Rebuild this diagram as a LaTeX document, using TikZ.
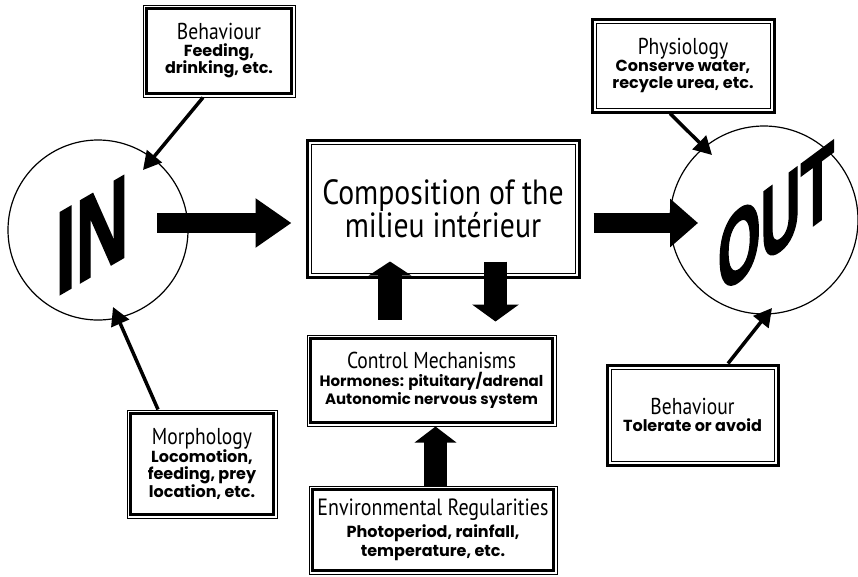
\documentclass[tikz,border=0pt]{standalone}
\usepackage{fontspec}
\setmainfont{Poppins}
\newfontfamily\hdfont[FakeStretch=0.85]{PT Sans}
\newfontfamily\bigfont[FakeBold=2]{Liberation Sans Bold}
\usetikzlibrary{arrows.meta,calc}
\newcommand\hdbig{\hdfont\mdseries\fontsize{35}{46}\selectfont}
\newcommand\hdsm{\hdfont\mdseries\fontsize{23}{23}\selectfont}
\newcommand\hdlg{\hdfont\mdseries\fontsize{23.5}{23.5}\selectfont}
\newcommand\bd{\bfseries\fontsize{16}{17.5}\selectfont}
\newcommand\bdsm{\bfseries\fontsize{15}{18}\selectfont}
\tikzset{
  box/.style={draw, fill=white, inner sep=0pt, align=center, font=\bd, line width=#1},
  thinthick/.style={box=1pt, path picture={\draw[line width=2.6pt]
     ([shift={(3.5pt,3.5pt)}]path picture bounding box.south west) rectangle
     ([shift={(-3.5pt,-3.5pt)}]path picture bounding box.north east);}},
  thickthin/.style={box=3pt, path picture={\draw[line width=1pt]
     ([shift={(4pt,4pt)}]path picture bounding box.south west) rectangle
     ([shift={(-4pt,-4pt)}]path picture bounding box.north east);}},
  ring/.style={circle, draw, line width=1.2pt},
  conn/.style={line width=3.5pt, -{Triangle[length=18pt,width=19pt]}},
  bigtxt/.style={font=\bigfont\fontsize{#1}{#1}\selectfont, inner sep=0pt},
}
\begin{document}
\begin{tikzpicture}[x=1pt,y=-1pt]
\useasboundingbox (0,0) rectangle (858,576);
% circles
\node[ring, minimum size=180pt] (in) at (98,230) {};
\node[ring, minimum size=188pt] (out) at (764,220) {};
\node[bigtxt=118, xscale=.62, yslant=.36] (intext) at (92,235) {IN};
\node[bigtxt=102, xscale=.54, yslant=.4] (outtext) at (776,218) {OUT};
% boxes
\node[thinthick, minimum width=152pt, minimum height=92pt] (beh1) at (219,51)
  {{\hdsm Behaviour}\\[-1pt] Feeding,\\ drinking, etc.};
\node[thickthin, minimum width=272pt, minimum height=137pt] (comp) at (443,208.5)
  {\hdbig Composition of the\\ \hdbig milieu intérieur};
\node[thickthin, minimum width=182pt, minimum height=93pt] (phys) at (683,65.5)
  {{\hdsm Physiology}\\[-1pt] Conserve water,\\ recycle urea, etc.};
\node[thinthick, font=\bdsm, minimum width=249pt, minimum height=91pt] (ctrl) at (431.5,380.5)
  {{\hdsm Control Mechanisms}\\[0pt] Hormones: pituitary/adrenal\\ Autonomic nervous system};
\node[thinthick, minimum width=248pt, minimum height=88pt] (env) at (433,530)
  {{\hdlg Environmental Regularities}\\[3pt] Photoperiod, rainfall,\\[2pt] temperature, etc.};
\node[thinthick, minimum width=150pt, minimum height=108pt] (morph) at (202,464)
  {{\hdsm Morphology}\\[-1pt] Locomotion,\\ feeding, prey\\ location, etc.};
\node[thickthin, minimum width=171pt, minimum height=100pt] (beh2) at (692.5,415)
  {{\hdsm Behaviour}\\[-1pt] Tolerate or avoid};
% thin connectors
\draw[conn] ([xshift=-16]beh1.south) -- ($(in.center)+(45,-60)$);
\draw[conn] ([xshift=-44]morph.north) -- ($(in.center)+(15,77)$);
\draw[conn] ([xshift=-13]phys.south) -- ($(out.center)+(-52,-65)$);
\draw[conn] ([xshift=35.5]beh2.north) -- ($(out.center)+(8,88)$);
% block arrows
\draw[line width=20pt, -{Triangle[length=36pt,width=47pt]}]
  ($(in.center)+(59,-7)$) -- ([shift={(-14,14.5)}]comp.west);
\draw[line width=20pt, -{Triangle[length=28pt,width=47pt]}]
  ([shift={(13,14.5)}]comp.east) -- ($(out.center)+(-66,3)$);
\draw[line width=24pt, -{Triangle[length=14pt,width=42pt]}]
  ([shift={(-41.5,-15)}]ctrl.north) -- ([shift={(-53,-17)}]comp.south);
\draw[line width=23pt, -{Triangle[length=17pt,width=46pt]}]
  ([shift={(52.5,-17)}]comp.south) -- ([shift={(64,-13)}]ctrl.north);
\draw[line width=23pt, -{Triangle[length=16pt,width=41pt]}]
  ([shift={(2.5,1)}]env.north) -- ([shift={(4,0)}]ctrl.south);
\end{tikzpicture}
\end{document}
